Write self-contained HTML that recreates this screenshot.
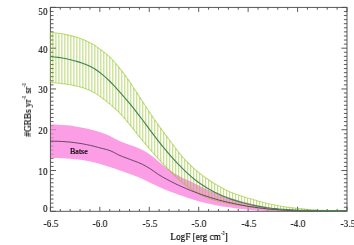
<!DOCTYPE html>
<html><head><meta charset="utf-8"><title>GRB rate</title>
<style>
html,body{margin:0;padding:0;background:#fff;}
body{width:354px;height:245px;position:relative;overflow:hidden;font-family:"Liberation Serif",serif;color:#000;-webkit-text-stroke:0.12px #000;font-size:11.3px;line-height:12px;}
.yl,.xl,.xt,.bt{will-change:transform;}
.yl{position:absolute;left:17px;width:30.6px;text-align:right;height:12px;transform:scaleX(0.83);transform-origin:100% 50%;}
.xl{position:absolute;top:216.9px;width:40px;text-align:center;height:12px;transform:scaleX(0.83);transform-origin:50% 50%;}
.xt,.yt{-webkit-text-stroke:0.2px #000;}
.xt{position:absolute;left:139px;width:120px;top:229.5px;text-align:center;white-space:nowrap;transform:scaleX(0.818);transform-origin:50% 50%;}
.yt{position:absolute;left:27.1px;top:109.7px;width:0;height:0;}
.yt span.r{position:absolute;display:block;white-space:nowrap;transform:translate(-50%,-50%) rotate(-90deg) scaleX(0.818);transform-origin:center;}
sup{font-size:5.2px;line-height:0;vertical-align:5px;}
.bt{position:absolute;left:69.9px;top:146.0px;font-size:8px;line-height:11px;-webkit-text-stroke:0.2px #000;}
</style></head><body>
<svg width="354" height="245" viewBox="0 0 354 245" style="position:absolute;left:0;top:0"><rect width="354" height="245" fill="#fff"/><path d="M50.40,211.3v-4.5M50.40,7.4v4.5M60.29,211.3v-2.3M60.29,7.4v2.3M70.17,211.3v-2.3M70.17,7.4v2.3M80.06,211.3v-2.3M80.06,7.4v2.3M89.95,211.3v-2.3M89.95,7.4v2.3M99.83,211.3v-4.5M99.83,7.4v4.5M109.72,211.3v-2.3M109.72,7.4v2.3M119.61,211.3v-2.3M119.61,7.4v2.3M129.49,211.3v-2.3M129.49,7.4v2.3M139.38,211.3v-2.3M139.38,7.4v2.3M149.27,211.3v-4.5M149.27,7.4v4.5M159.15,211.3v-2.3M159.15,7.4v2.3M169.04,211.3v-2.3M169.04,7.4v2.3M178.93,211.3v-2.3M178.93,7.4v2.3M188.81,211.3v-2.3M188.81,7.4v2.3M198.70,211.3v-4.5M198.70,7.4v4.5M208.59,211.3v-2.3M208.59,7.4v2.3M218.47,211.3v-2.3M218.47,7.4v2.3M228.36,211.3v-2.3M228.36,7.4v2.3M238.25,211.3v-2.3M238.25,7.4v2.3M248.13,211.3v-4.5M248.13,7.4v4.5M258.02,211.3v-2.3M258.02,7.4v2.3M267.91,211.3v-2.3M267.91,7.4v2.3M277.79,211.3v-2.3M277.79,7.4v2.3M287.68,211.3v-2.3M287.68,7.4v2.3M297.57,211.3v-4.5M297.57,7.4v4.5M307.45,211.3v-2.3M307.45,7.4v2.3M317.34,211.3v-2.3M317.34,7.4v2.3M327.23,211.3v-2.3M327.23,7.4v2.3M337.11,211.3v-2.3M337.11,7.4v2.3M347.00,211.3v-4.5M347.00,7.4v4.5M50.4,211.30h5.6M347.0,211.30h-5.6M50.4,207.22h3.1M347.0,207.22h-3.1M50.4,203.14h3.1M347.0,203.14h-3.1M50.4,199.07h3.1M347.0,199.07h-3.1M50.4,194.99h3.1M347.0,194.99h-3.1M50.4,190.91h3.1M347.0,190.91h-3.1M50.4,186.83h3.1M347.0,186.83h-3.1M50.4,182.75h3.1M347.0,182.75h-3.1M50.4,178.68h3.1M347.0,178.68h-3.1M50.4,174.60h3.1M347.0,174.60h-3.1M50.4,170.52h5.6M347.0,170.52h-5.6M50.4,166.44h3.1M347.0,166.44h-3.1M50.4,162.36h3.1M347.0,162.36h-3.1M50.4,158.29h3.1M347.0,158.29h-3.1M50.4,154.21h3.1M347.0,154.21h-3.1M50.4,150.13h3.1M347.0,150.13h-3.1M50.4,146.05h3.1M347.0,146.05h-3.1M50.4,141.97h3.1M347.0,141.97h-3.1M50.4,137.90h3.1M347.0,137.90h-3.1M50.4,133.82h3.1M347.0,133.82h-3.1M50.4,129.74h5.6M347.0,129.74h-5.6M50.4,125.66h3.1M347.0,125.66h-3.1M50.4,121.58h3.1M347.0,121.58h-3.1M50.4,117.51h3.1M347.0,117.51h-3.1M50.4,113.43h3.1M347.0,113.43h-3.1M50.4,109.35h3.1M347.0,109.35h-3.1M50.4,105.27h3.1M347.0,105.27h-3.1M50.4,101.19h3.1M347.0,101.19h-3.1M50.4,97.12h3.1M347.0,97.12h-3.1M50.4,93.04h3.1M347.0,93.04h-3.1M50.4,88.96h5.6M347.0,88.96h-5.6M50.4,84.88h3.1M347.0,84.88h-3.1M50.4,80.80h3.1M347.0,80.80h-3.1M50.4,76.73h3.1M347.0,76.73h-3.1M50.4,72.65h3.1M347.0,72.65h-3.1M50.4,68.57h3.1M347.0,68.57h-3.1M50.4,64.49h3.1M347.0,64.49h-3.1M50.4,60.41h3.1M347.0,60.41h-3.1M50.4,56.34h3.1M347.0,56.34h-3.1M50.4,52.26h3.1M347.0,52.26h-3.1M50.4,48.18h5.6M347.0,48.18h-5.6M50.4,44.10h3.1M347.0,44.10h-3.1M50.4,40.02h3.1M347.0,40.02h-3.1M50.4,35.95h3.1M347.0,35.95h-3.1M50.4,31.87h3.1M347.0,31.87h-3.1M50.4,27.79h3.1M347.0,27.79h-3.1M50.4,23.71h3.1M347.0,23.71h-3.1M50.4,19.63h3.1M347.0,19.63h-3.1M50.4,15.56h3.1M347.0,15.56h-3.1M50.4,11.48h3.1M347.0,11.48h-3.1M50.4,7.40h5.6M347.0,7.40h-5.6" fill="none" stroke="#484848" stroke-width="0.9"/><path d="M50.4,124.5 L54.4,124.6 L58.4,124.7 L62.4,124.9 L66.4,125.2 L70.4,125.6 L74.4,126.2 L78.5,126.9 L82.5,127.7 L86.5,128.5 L90.5,129.4 L94.5,130.5 L98.5,131.8 L102.5,133.1 L106.5,134.6 L110.5,136.2 L114.5,138.4 L118.5,140.6 L122.5,142.3 L126.6,143.8 L130.6,145.2 L134.6,146.6 L138.6,148.2 L142.6,150.1 L146.6,152.3 L150.6,154.9 L154.6,158.1 L158.6,161.6 L162.6,164.8 L166.6,168.0 L170.6,170.8 L174.7,173.4 L178.7,175.8 L182.7,177.9 L186.7,179.7 L190.7,181.6 L194.7,183.6 L198.7,185.6 L202.7,187.5 L206.7,189.3 L210.7,191.0 L214.7,192.6 L218.7,194.1 L222.7,195.6 L226.8,196.9 L230.8,198.1 L234.8,199.3 L238.8,200.5 L242.8,201.5 L246.8,202.5 L250.8,203.5 L254.8,204.5 L258.8,205.4 L262.8,206.1 L266.8,206.8 L270.8,207.4 L274.9,208.0 L278.9,208.5 L282.9,208.9 L286.9,209.4 L290.9,209.8 L294.9,210.1 L298.9,210.3 L302.9,210.5 L306.9,210.7 L310.9,210.9 L314.9,211.0 L318.9,211.1 L323.0,211.1 L327.0,211.1 L331.0,211.2 L335.0,211.2 L339.0,211.2 L343.0,211.2 L347.0,211.2 L347.0,211.3 L343.0,211.3 L339.0,211.3 L335.0,211.3 L331.0,211.3 L327.0,211.3 L323.0,211.3 L318.9,211.3 L314.9,211.3 L310.9,211.3 L306.9,211.3 L302.9,211.3 L298.9,211.3 L294.9,211.3 L290.9,211.3 L286.9,211.3 L282.9,211.2 L278.9,211.2 L274.9,211.1 L270.8,211.0 L266.8,210.9 L262.8,210.7 L258.8,210.4 L254.8,210.2 L250.8,209.9 L246.8,209.5 L242.8,209.1 L238.8,208.7 L234.8,208.2 L230.8,207.6 L226.8,207.0 L222.7,206.4 L218.7,205.7 L214.7,204.9 L210.7,204.1 L206.7,203.2 L202.7,202.3 L198.7,201.2 L194.7,200.0 L190.7,198.7 L186.7,197.4 L182.7,196.1 L178.7,194.7 L174.7,193.3 L170.6,191.8 L166.6,190.3 L162.6,188.6 L158.6,186.8 L154.6,184.8 L150.6,182.9 L146.6,180.9 L142.6,179.0 L138.6,177.2 L134.6,175.7 L130.6,174.2 L126.6,172.7 L122.5,171.3 L118.5,169.9 L114.5,168.5 L110.5,167.2 L106.5,165.9 L102.5,164.7 L98.5,163.6 L94.5,162.5 L90.5,161.6 L86.5,160.8 L82.5,160.1 L78.5,159.6 L74.4,159.2 L70.4,158.8 L66.4,158.5 L62.4,158.3 L58.4,158.1 L54.4,158.0 L50.4,157.9Z" fill="#f97ede" fill-opacity="0.75"/><rect x="50.4" y="7.4" width="296.6" height="203.9" fill="none" stroke="#505050" stroke-width="0.95"/><path d="M50.40,32.4V82.6M52.90,32.6V82.7M55.89,32.9V82.9M58.89,33.2V83.2M61.88,33.7V83.5M64.88,34.3V83.9M67.88,35.0V84.3M70.87,35.7V84.9M73.87,36.5V85.4M76.86,37.3V86.1M79.86,38.3V86.9M82.86,39.3V87.8M85.85,40.6V88.9M88.85,42.0V90.1M91.84,43.6V91.5M94.84,45.5V93.1M97.84,47.6V95.0M100.83,49.8V97.0M103.83,52.0V99.2M106.82,54.4V101.6M109.82,57.0V104.1M112.82,60.1V106.7M115.81,63.5V109.3M118.81,67.1V112.1M121.80,70.9V115.2M124.80,74.9V118.7M127.80,79.1V122.3M130.79,83.5V126.0M133.79,88.0V129.7M136.78,92.6V133.5M139.78,97.3V137.2M142.78,101.9V140.8M145.77,106.6V144.4M148.77,111.2V147.9M151.76,115.6V151.3M154.76,119.9V154.8M157.76,124.2V158.1M160.75,128.3V161.4M163.75,132.4V164.6M166.74,136.3V167.6M169.74,140.3V170.6M172.74,144.3V173.7M175.73,148.5V176.6M178.73,152.4V179.5M181.72,156.0V182.1M184.72,159.4V184.5M187.72,162.5V186.8M190.71,165.5V188.9M193.71,168.2V190.9M196.70,170.8V192.8M199.70,173.3V194.5M202.70,175.6V195.9M205.69,177.8V197.1M208.69,179.8V198.2M211.68,181.8V199.3M214.68,183.7V200.2M217.68,185.5V201.0M220.67,187.2V201.8M223.67,188.8V202.5M226.66,190.4V203.1M229.66,191.9V203.7M232.66,193.1V204.3M235.65,194.2V204.7M238.65,195.2V205.2M241.64,196.1V205.7M244.64,197.0V206.1M247.64,197.9V206.6M250.63,198.8V207.0M253.63,199.7V207.4M256.62,200.6V207.8M259.62,201.4V208.2M262.62,202.2V208.5M265.61,203.0V208.8M268.61,203.7V209.2M271.60,204.4V209.5M274.60,205.0V209.7M277.60,205.6V210.0M280.59,206.1V210.3M283.59,206.6V210.5M286.58,207.0V210.8M289.58,207.4V211.0M292.58,207.8V211.1M295.57,208.2V211.1M298.57,208.5V211.2M301.56,208.7V211.2M304.56,209.0V211.2M307.56,209.3V211.3M310.55,209.6V211.3M313.55,209.8V211.3M316.54,210.0V211.3M319.54,210.2V211.3M322.54,210.3V211.3M325.53,210.4V211.3M328.53,210.6V211.3M331.52,210.7V211.3M334.52,210.8V211.3M337.52,210.9V211.3M340.51,210.9V211.3M343.51,211.0V211.3M346.50,211.0V211.3" fill="none" stroke="#8fc31f" stroke-opacity="0.62" stroke-width="1.05"/><path d="M50.4,32.4 L54.4,32.7 L58.4,33.2 L62.4,33.8 L66.4,34.6 L70.4,35.6 L74.4,36.6 L78.5,37.8 L82.5,39.2 L86.5,40.9 L90.5,42.9 L94.5,45.3 L98.5,48.1 L102.5,51.0 L106.5,54.1 L110.5,57.7 L114.5,62.0 L118.5,66.8 L122.5,71.9 L126.6,77.4 L130.6,83.1 L134.6,89.2 L138.6,95.4 L142.6,101.6 L146.6,107.8 L150.6,113.9 L154.6,119.7 L158.6,125.4 L162.6,130.9 L166.6,136.2 L170.6,141.5 L174.7,147.0 L178.7,152.3 L182.7,157.1 L186.7,161.5 L190.7,165.5 L194.7,169.1 L198.7,172.5 L202.7,175.6 L206.7,178.5 L210.7,181.2 L214.7,183.7 L218.7,186.1 L222.7,188.3 L226.8,190.5 L230.8,192.3 L234.8,193.8 L238.8,195.2 L242.8,196.5 L246.8,197.7 L250.8,198.8 L254.8,200.0 L258.8,201.2 L262.8,202.3 L266.8,203.3 L270.8,204.2 L274.9,205.0 L278.9,205.8 L282.9,206.5 L286.9,207.1 L290.9,207.6 L294.9,208.1 L298.9,208.5 L302.9,208.9 L306.9,209.3 L310.9,209.6 L314.9,209.9 L318.9,210.2 L323.0,210.3 L327.0,210.5 L331.0,210.7 L335.0,210.8 L339.0,210.9 L343.0,211.0 L347.0,211.0" fill="none" stroke="#8fc31f" stroke-opacity="0.55" stroke-width="1.1"/><path d="M50.4,82.6 L54.4,82.8 L58.4,83.2 L62.4,83.6 L66.4,84.1 L70.4,84.8 L74.4,85.6 L78.5,86.5 L82.5,87.6 L86.5,89.1 L90.5,90.8 L94.5,92.9 L98.5,95.4 L102.5,98.2 L106.5,101.4 L110.5,104.7 L114.5,108.2 L118.5,111.8 L122.5,116.0 L126.6,120.8 L130.6,125.7 L134.6,130.7 L138.6,135.8 L142.6,140.6 L146.6,145.3 L150.6,150.0 L154.6,154.6 L158.6,159.1 L162.6,163.4 L166.6,167.5 L170.6,171.5 L174.7,175.6 L178.7,179.4 L182.7,182.8 L186.7,186.0 L190.7,188.9 L194.7,191.6 L198.7,193.9 L202.7,195.9 L206.7,197.5 L210.7,198.9 L214.7,200.2 L218.7,201.3 L222.7,202.3 L226.8,203.2 L230.8,203.9 L234.8,204.6 L238.8,205.2 L242.8,205.8 L246.8,206.4 L250.8,207.0 L254.8,207.6 L258.8,208.1 L262.8,208.5 L266.8,209.0 L270.8,209.4 L274.9,209.8 L278.9,210.1 L282.9,210.5" fill="none" stroke="#8fc31f" stroke-opacity="0.55" stroke-width="1.1"/><path d="M50.4,141.1 L54.4,141.2 L58.4,141.3 L62.4,141.5 L66.4,141.8 L70.4,142.1 L74.4,142.6 L78.5,143.2 L82.5,143.8 L86.5,144.6 L90.5,145.4 L94.5,146.4 L98.5,147.5 L102.5,148.5 L106.5,149.5 L110.5,150.8 L114.5,152.7 L118.5,154.9 L122.5,156.6 L126.6,158.1 L130.6,159.6 L134.6,161.1 L138.6,162.6 L142.6,164.4 L146.6,166.6 L150.6,169.0 L154.6,171.8 L158.6,174.6 L162.6,177.0 L166.6,179.2 L170.6,181.3 L174.7,183.4 L178.7,185.3 L182.7,187.1 L186.7,188.8 L190.7,190.5 L194.7,192.0 L198.7,193.5 L202.7,195.0 L206.7,196.3 L210.7,197.6 L214.7,198.8 L218.7,200.0 L222.7,201.0 L226.8,202.0 L230.8,202.9 L234.8,203.7 L238.8,204.6 L242.8,205.3 L246.8,206.1 L250.8,206.7 L254.8,207.3 L258.8,207.9 L262.8,208.3 L266.8,208.8 L270.8,209.2 L274.9,209.5 L278.9,209.8 L282.9,210.1 L286.9,210.3 L290.9,210.5 L294.9,210.7 L298.9,210.9 L302.9,210.9 L306.9,210.9 L310.9,210.9 L314.9,210.9 L318.9,210.9 L323.0,210.9 L327.0,210.9 L331.0,210.9 L335.0,210.9 L339.0,210.9 L343.0,210.9 L347.0,210.9" fill="none" stroke="#5a3a58" stroke-width="0.9"/><path d="M50.4,56.8 L54.4,57.0 L58.4,57.4 L62.4,58.0 L66.4,58.8 L70.4,59.7 L74.4,60.7 L78.5,61.9 L82.5,63.2 L86.5,64.7 L90.5,66.5 L94.5,68.8 L98.5,71.5 L102.5,74.6 L106.5,78.2 L110.5,82.0 L114.5,86.2 L118.5,90.6 L122.5,95.1 L126.6,99.8 L130.6,104.7 L134.6,109.7 L138.6,114.8 L142.6,120.0 L146.6,125.4 L150.6,130.8 L154.6,136.1 L158.6,141.3 L162.6,146.3 L166.6,151.2 L170.6,155.9 L174.7,160.4 L178.7,164.6 L182.7,168.7 L186.7,172.6 L190.7,176.2 L194.7,179.5 L198.7,182.5 L202.7,185.2 L206.7,187.8 L210.7,190.1 L214.7,192.2 L218.7,194.1 L222.7,195.9 L226.8,197.6 L230.8,199.1 L234.8,200.4 L238.8,201.6 L242.8,202.8 L246.8,203.8 L250.8,204.8 L254.8,205.6 L258.8,206.4 L262.8,207.1 L266.8,207.7 L270.8,208.2 L274.9,208.6 L278.9,209.0 L282.9,209.3 L286.9,209.6 L290.9,209.8 L294.9,210.0 L298.9,210.2 L302.9,210.3 L306.9,210.4 L310.9,210.5 L314.9,210.6 L318.9,210.7 L323.0,210.7 L327.0,210.8 L331.0,210.9 L335.0,210.9 L339.0,210.9 L343.0,210.9 L347.0,210.9" fill="none" stroke="#40834f" stroke-width="1.12"/></svg>
<div class="yl" style="top:202.1px">0</div><div class="yl" style="top:164.9px">10</div><div class="yl" style="top:124.1px">20</div><div class="yl" style="top:83.4px">30</div><div class="yl" style="top:42.6px">40</div><div class="yl" style="top:5.0px">50</div><div class="xl" style="left:30.9px">-6.5</div><div class="xl" style="left:80.3px">-6.0</div><div class="xl" style="left:129.8px">-5.5</div><div class="xl" style="left:179.2px">-5.0</div><div class="xl" style="left:228.6px">-4.5</div><div class="xl" style="left:278.1px">-4.0</div><div class="xl" style="left:327.5px">-3.5</div>
<div class="xt">LogF [erg cm<sup>-2</sup>]</div>
<div class="yt"><span class="r">#GRBs yr<sup>-1</sup> sr<sup>-1</sup></span></div>
<div class="bt">Batse</div>
</body></html>
